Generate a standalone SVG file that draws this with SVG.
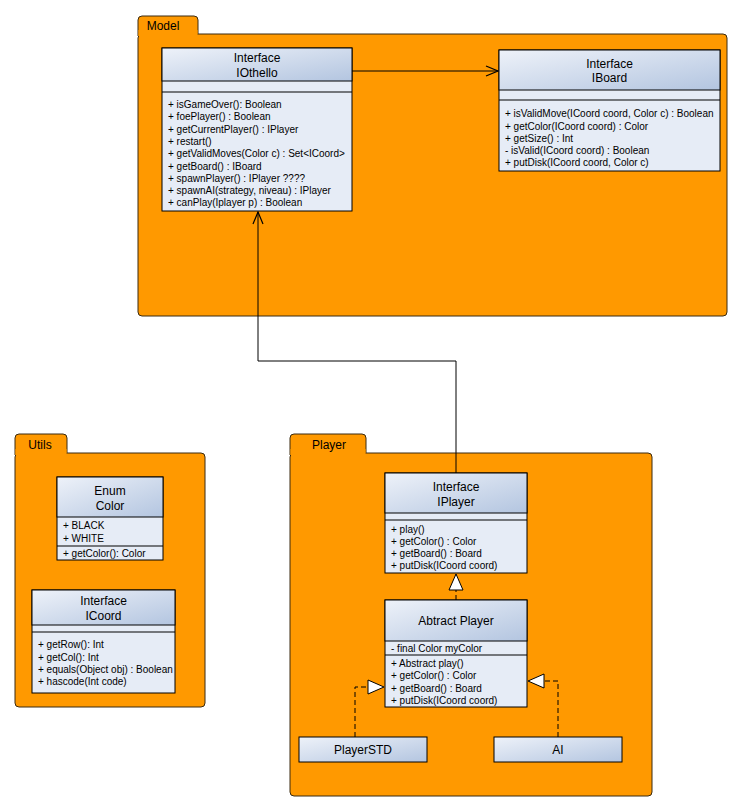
<svg xmlns="http://www.w3.org/2000/svg" width="743" height="812" viewBox="0 0 743 812">
  <defs>
    <linearGradient id="hdr" x1="0" y1="0" x2="1" y2="1">
      <stop offset="0" stop-color="#eef2f9"/>
      <stop offset="1" stop-color="#b3c5e0"/>
    </linearGradient>
    <marker id="open" viewBox="0 0 14 12" refX="13" refY="6" markerWidth="14" markerHeight="12" markerUnits="userSpaceOnUse" orient="auto">
      <path d="M1,1 L13,6 L1,11" fill="none" stroke="#000" stroke-width="1.2"/>
    </marker>
    <marker id="tri" viewBox="0 0 18 18" refX="17" refY="9" markerWidth="18" markerHeight="18" markerUnits="userSpaceOnUse" orient="auto">
      <path d="M1,2 L17,9 L1,16 Z" fill="#fff" stroke="#000" stroke-width="1"/>
    </marker>
  </defs>
  <style>
    .pkg { fill: #ff9900; stroke: #3a2a10; stroke-width: 1; }
    .tab { fill: #ff9900; stroke: none; }
    .box { fill: #e6ecf6; stroke: #000; stroke-width: 1; }
    .hdr { fill: url(#hdr); stroke: #000; stroke-width: 1; }
    .sep { stroke: #000; stroke-width: 1; }
    text { font-family: "Liberation Sans", Arial, sans-serif; fill: #000; }
    .name { font-size: 12px; text-anchor: middle; }
    .mem { font-size: 10px; }
    .pname { font-size: 12px; text-anchor: middle; }
    .line { fill: none; stroke: #000; stroke-width: 1; }
    .dash { fill: none; stroke: #000; stroke-width: 1; stroke-dasharray: 5 3; }
  </style>

  <!-- Packages: body first, then the tab drawn over its top edge -->
  <g id="pkg-model">
    <rect class="pkg" x="138" y="34" width="589" height="282" rx="4"/>
    <path class="pkg" d="M138,36 L138,20 Q138,16 142,16 L194,16 Q198,16 198,20 L198,34"/>
    <rect class="tab" x="138.5" y="30" width="59" height="6"/>
    <text class="pname" x="163" y="30">Model</text>
  </g>
  <g id="pkg-utils">
    <rect class="pkg" x="15" y="453" width="190" height="254" rx="4"/>
    <path class="pkg" d="M15,455 L15,438 Q15,434 19,434 L63,434 Q67,434 67,438 L67,453"/>
    <rect class="tab" x="15.5" y="449" width="51" height="6"/>
    <text class="pname" x="40" y="449">Utils</text>
  </g>
  <g id="pkg-player">
    <rect class="pkg" x="290" y="453" width="362" height="343" rx="4"/>
    <path class="pkg" d="M290,455 L290,438 Q290,434 294,434 L362,434 Q366,434 366,438 L366,453"/>
    <rect class="tab" x="290.5" y="449" width="75" height="6"/>
    <text class="pname" x="329" y="449">Player</text>
  </g>

  <!-- IOthello -->
  <g id="IOthello">
    <rect class="box" x="162" y="48" width="190" height="163"/>
    <rect class="hdr" x="162" y="48" width="190" height="33"/>
    <line class="sep" x1="162" y1="92" x2="352" y2="92"/>
    <text class="name" x="257" y="62">Interface</text>
    <text class="name" x="257" y="77">IOthello</text>
    <text class="mem" x="168" y="108">+ isGameOver(): Boolean</text>
    <text class="mem" x="168" y="120">+ foePlayer() : Boolean</text>
    <text class="mem" x="168" y="133">+ getCurrentPlayer() : IPlayer</text>
    <text class="mem" x="168" y="145">+ restart()</text>
    <text class="mem" x="168" y="157">+ getValidMoves(Color c) : Set&lt;ICoord&gt;</text>
    <text class="mem" x="168" y="170">+ getBoard() : IBoard</text>
    <text class="mem" x="168" y="182">+ spawnPlayer() : IPlayer ????</text>
    <text class="mem" x="168" y="194">+ spawnAI(strategy, niveau) : IPlayer</text>
    <text class="mem" x="168" y="206">+ canPlay(Iplayer p) : Boolean</text>
  </g>

  <!-- IBoard -->
  <g id="IBoard">
    <rect class="box" x="499" y="50" width="221" height="121"/>
    <rect class="hdr" x="499" y="50" width="221" height="40"/>
    <line class="sep" x1="499" y1="100" x2="720" y2="100"/>
    <text class="name" x="609.5" y="68">Interface</text>
    <text class="name" x="609.5" y="82">IBoard</text>
    <text class="mem" x="505" y="117">+ isValidMove(ICoord coord, Color c) : Boolean</text>
    <text class="mem" x="505" y="130">+ getColor(ICoord coord) : Color</text>
    <text class="mem" x="505" y="142">+ getSize() : Int</text>
    <text class="mem" x="505" y="154">- isValid(ICoord coord) : Boolean</text>
    <text class="mem" x="505" y="166">+ putDisk(ICoord coord, Color c)</text>
  </g>

  <!-- Color -->
  <g id="Color">
    <rect class="box" x="57" y="477" width="106" height="83"/>
    <rect class="hdr" x="57" y="477" width="106" height="40"/>
    <line class="sep" x1="57" y1="546" x2="163" y2="546"/>
    <text class="name" x="110" y="495">Enum</text>
    <text class="name" x="110" y="510">Color</text>
    <text class="mem" x="63" y="529">+ BLACK</text>
    <text class="mem" x="63" y="542">+ WHITE</text>
    <text class="mem" x="63" y="557">+ getColor(): Color</text>
  </g>

  <!-- ICoord -->
  <g id="ICoord">
    <rect class="box" x="32" y="590" width="143" height="103"/>
    <rect class="hdr" x="32" y="590" width="143" height="35"/>
    <line class="sep" x1="32" y1="632" x2="175" y2="632"/>
    <text class="name" x="103.5" y="605">Interface</text>
    <text class="name" x="103.5" y="620">ICoord</text>
    <text class="mem" x="38" y="648">+ getRow(): Int</text>
    <text class="mem" x="38" y="661">+ getCol(): Int</text>
    <text class="mem" x="38" y="673">+ equals(Object obj) : Boolean</text>
    <text class="mem" x="38" y="685">+ hascode(Int code)</text>
  </g>

  <!-- IPlayer -->
  <g id="IPlayer">
    <rect class="box" x="385" y="473" width="142" height="100"/>
    <rect class="hdr" x="385" y="473" width="142" height="40"/>
    <line class="sep" x1="385" y1="520" x2="527" y2="520"/>
    <text class="name" x="456" y="491">Interface</text>
    <text class="name" x="456" y="506">IPlayer</text>
    <text class="mem" x="391" y="533">+ play()</text>
    <text class="mem" x="391" y="545">+ getColor() : Color</text>
    <text class="mem" x="391" y="557">+ getBoard() : Board</text>
    <text class="mem" x="391" y="569">+ putDisk(ICoord coord)</text>
  </g>

  <!-- Abtract Player -->
  <g id="AbstractPlayer">
    <rect class="box" x="385" y="600" width="142" height="107"/>
    <rect class="hdr" x="385" y="600" width="142" height="41"/>
    <line class="sep" x1="385" y1="655" x2="527" y2="655"/>
    <text class="name" x="456" y="625">Abtract Player</text>
    <text class="mem" x="391" y="652">- final Color myColor</text>
    <text class="mem" x="391" y="667">+ Abstract play()</text>
    <text class="mem" x="391" y="679">+ getColor() : Color</text>
    <text class="mem" x="391" y="692">+ getBoard() : Board</text>
    <text class="mem" x="391" y="704">+ putDisk(ICoord coord)</text>
  </g>

  <!-- PlayerSTD -->
  <g id="PlayerSTD">
    <rect class="hdr" x="299" y="737" width="128" height="25"/>
    <text class="name" x="363" y="754">PlayerSTD</text>
  </g>

  <!-- AI -->
  <g id="AI">
    <rect class="hdr" x="494" y="737" width="128" height="25"/>
    <text class="name" x="558" y="754">AI</text>
  </g>

  <!-- Connectors -->
  <g id="connectors">
    <path class="line" d="M352,71 L498,71" marker-end="url(#open)"/>
    <path class="line" d="M456,473 L456,361 L258,361 L258,212" marker-end="url(#open)"/>
    <path class="dash" d="M456,600 L456,574" marker-end="url(#tri)"/>
    <path class="dash" d="M355,737 L355,687 L384,687" marker-end="url(#tri)"/>
    <path class="dash" d="M558,737 L558,681 L528,681" marker-end="url(#tri)"/>
  </g>
</svg>
